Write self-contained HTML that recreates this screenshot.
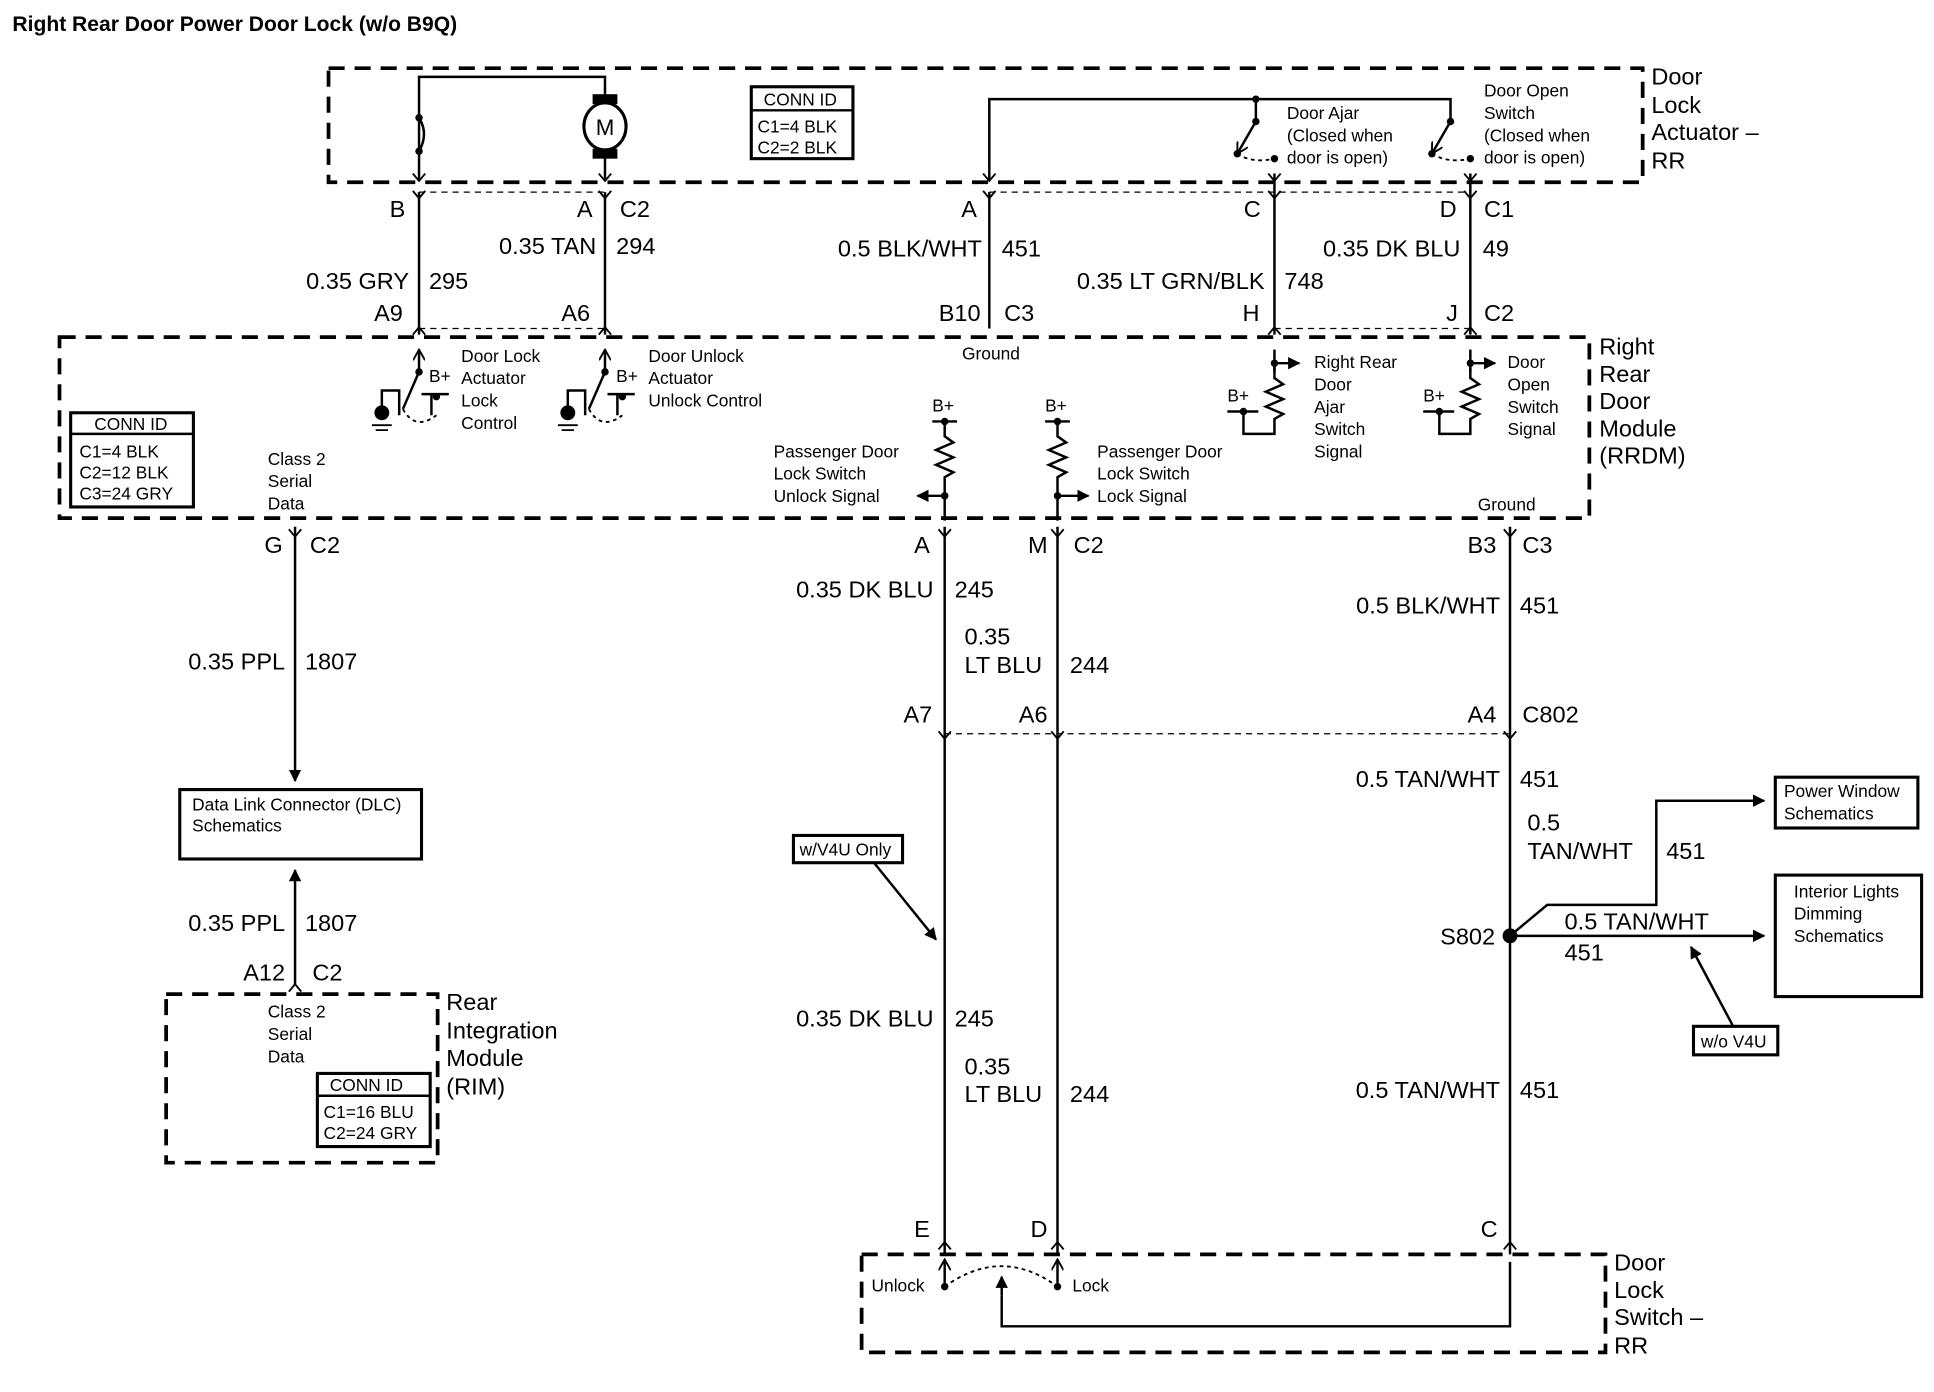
<!DOCTYPE html>
<html><head><meta charset="utf-8"><style>
html,body{margin:0;padding:0;background:#fff;}
svg{display:block;}
text{font-family:"Liberation Sans",Arial,sans-serif;fill:#000;}
.w{font-size:19px;}
.s{font-size:14px;}
.b{font-size:19px;}
</style></head><body>
<svg width="1934" height="1392" viewBox="0 0 1560 1123" preserveAspectRatio="none" xmlns="http://www.w3.org/2000/svg">
<defs>
<marker id="ah" markerWidth="10" markerHeight="10" refX="9" refY="5" orient="auto" markerUnits="userSpaceOnUse"><path d="M0,0 L10,5 L0,10 z" fill="#000"/></marker>
<marker id="av" markerWidth="10" markerHeight="10" refX="9" refY="5" orient="auto" markerUnits="userSpaceOnUse"><path d="M0,0 L9,5 L0,10" fill="none" stroke="#000" stroke-width="1.5"/></marker>
</defs>
<text x="10" y="25" style="font-size:17px;font-weight:bold">Right Rear Door Power Door Lock (w/o B9Q)</text>

<g fill="none" stroke="#000" stroke-width="3" stroke-dasharray="13,8">
<rect x="265" y="55" width="1060" height="92"/>
<rect x="48" y="272" width="1234" height="146"/>
<rect x="134" y="802" width="219" height="136"/>
<rect x="695" y="1012" width="600" height="79"/>
</g>
<g fill="none" stroke="#000" stroke-width="1" stroke-dasharray="5,4">
<line x1="338" y1="155" x2="488" y2="155"/><line x1="798" y1="155" x2="1186" y2="155"/>
<line x1="338" y1="265" x2="488" y2="265"/><line x1="1028" y1="265" x2="1186" y2="265"/>
<line x1="762" y1="592" x2="1218" y2="592"/>
</g>

<g stroke="#000" stroke-width="2" fill="none">
<!-- actuator internals -->
<path d="M338,145 V62 H488 V145"/>
<path d="M798,145 V80 H1170 V98"/>
<path d="M1013,80 V98"/>
<line x1="338" y1="155" x2="338" y2="270"/>
<line x1="488" y1="155" x2="488" y2="270"/>
<line x1="798" y1="155" x2="798" y2="265"/>
<line x1="1028" y1="140" x2="1028" y2="270"/>
<line x1="1186" y1="140" x2="1186" y2="270"/>
<path d="M1013,98 L998,124" marker-end="url(#av)"/>
<path d="M1170,98 L1155,124" marker-end="url(#av)"/>
<path d="M338,95 Q346,108 338,122"/>
<!-- RRDM internals -->
<path d="M338,300 V282" marker-end="url(#av)"/>
<path d="M488,300 V282" marker-end="url(#av)"/>
<path d="M338,300 L325,330" /><path d="M488,300 L475,330"/>
<path d="M308,338 V315 H322 V335"/><path d="M458,338 V315 H472 V335"/>
<path d="M340,318 H362 M348,318 V335"/><path d="M490,318 H512 M498,318 V335"/>
<path d="M1028,300 V282"/><path d="M1186,300 V282"/>
<path d="M1028,293 H1048" marker-end="url(#ah)"/><path d="M1186,293 H1206" marker-end="url(#ah)"/>
<path d="M1028,293 V305 l7,5 -14,6 14,6 -14,6 14,6 -7,4 V350 H1003 V332 M990,332 H1015"/>
<path d="M1186,293 V305 l7,5 -14,6 14,6 -14,6 14,6 -7,4 V350 H1161 V332 M1148,332 H1173"/>
<path d="M752,340 H772 M762,340 V352 l7,5 -14,6 14,6 -14,6 14,6 -7,4 V420"/>
<path d="M843,340 H863 M853,340 V352 l7,5 -14,6 14,6 -14,6 14,6 -7,4 V420"/>
<path d="M762,400 H740" marker-end="url(#ah)"/><path d="M853,400 H878" marker-end="url(#ah)"/>
<!-- lower wires -->
<path d="M238,425 V630" marker-end="url(#ah)"/>
<path d="M238,795 V702" marker-end="url(#ah)"/>
<line x1="762" y1="425" x2="762" y2="1012"/>
<line x1="853" y1="425" x2="853" y2="1012"/>
<line x1="1218" y1="425" x2="1218" y2="1012"/>
<path d="M1218,755 L1248,730 H1336 V646 H1423" marker-end="url(#ah)"/>
<path d="M1218,755 H1423" marker-end="url(#ah)"/>
<path d="M1398,828 L1364,764" marker-end="url(#ah)"/>
<path d="M705,696 L755,758" marker-end="url(#ah)"/>
<path d="M808,1045 V1070 H1218 V1018"/>
<path d="M808,1045 V1030" marker-end="url(#ah)"/>
<path d="M762,1035 V1016" marker-end="url(#av)"/><path d="M853,1035 V1016" marker-end="url(#av)"/>
</g>
<g fill="none" stroke="#000" stroke-width="1.5" stroke-dasharray="3,3">
<path d="M998,124 Q1010,132 1028,128"/><path d="M1155,124 Q1168,132 1186,128"/>
<path d="M325,330 Q335,348 352,335"/><path d="M475,330 Q485,348 502,335"/>
<path d="M762,1038 Q808,1005 853,1038"/>
</g>
<!-- arrows into pins -->
<g stroke="#000" stroke-width="1.5" fill="none">
<path d="M333,140 l5,6 5,-6 M483,140 l5,6 5,-6 M1023,140 l5,6 5,-6 M1181,140 l5,6 5,-6 M793,140 l5,6 5,-6"/>
<path d="M333,154 l5,6 5,-6 M483,154 l5,6 5,-6 M793,154 l5,6 5,-6 M1023,154 l5,6 5,-6 M1181,154 l5,6 5,-6"/>
<path d="M333,270 l5,-6 5,6 M483,270 l5,-6 5,6 M1023,270 l5,-6 5,6 M1181,270 l5,-6 5,6"/>
<path d="M233,427 l5,6 5,-6 M757,427 l5,6 5,-6 M848,427 l5,6 5,-6 M1213,427 l5,6 5,-6"/>
<path d="M757,590 l5,6 5,-6 M848,590 l5,6 5,-6 M1213,590 l5,6 5,-6"/>
<path d="M757,1008 l5,-6 5,6 M848,1008 l5,-6 5,6 M1213,1008 l5,-6 5,6 M233,800 l5,-6 5,6"/>
</g>
<!-- dots -->
<g fill="#000">
<circle cx="1013" cy="80" r="3"/><circle cx="1013" cy="98" r="3"/><circle cx="1170" cy="98" r="3"/>
<circle cx="998" cy="124" r="3"/><circle cx="1155" cy="124" r="3"/><circle cx="1028" cy="128" r="3"/><circle cx="1186" cy="128" r="3"/>
<circle cx="338" cy="95" r="3"/><circle cx="338" cy="122" r="3"/>
<circle cx="338" cy="300" r="3"/><circle cx="488" cy="300" r="3"/><circle cx="352" cy="320" r="3"/><circle cx="502" cy="320" r="3"/>
<circle cx="1028" cy="293" r="3"/><circle cx="1186" cy="293" r="3"/><circle cx="1003" cy="332" r="3"/><circle cx="1161" cy="332" r="3"/>
<circle cx="762" cy="340" r="3"/><circle cx="853" cy="340" r="3"/><circle cx="762" cy="400" r="3"/><circle cx="853" cy="400" r="3"/>
<circle cx="1218" cy="755" r="6"/><circle cx="762" cy="1038" r="3"/><circle cx="853" cy="1038" r="3"/>
<circle cx="308" cy="333" r="6"/><circle cx="458" cy="333" r="6"/>
<rect x="478" y="76" width="20" height="8"/><rect x="478" y="120" width="20" height="8"/>
</g>
<g stroke="#000" stroke-width="1.5"><path d="M300,343 h16 M303,347 h10 M450,343 h16 M453,347 h10"/></g>
<ellipse cx="488" cy="102" rx="17" ry="19" fill="#fff" stroke="#000" stroke-width="2.5"/>
<text x="488" y="109" text-anchor="middle" style="font-size:18px">M</text>

<!-- boxes -->
<g fill="#fff" stroke="#000" stroke-width="2.5">
<rect x="606" y="70" width="82" height="58"/><rect x="57" y="333" width="99" height="76"/><rect x="256" y="866" width="91" height="59"/>
<rect x="145" y="637" width="195" height="56"/><rect x="1432" y="627" width="115" height="41"/><rect x="1432" y="706" width="118" height="98"/>
<rect x="1366" y="828" width="68" height="23"/><rect x="640" y="674" width="88" height="22"/>
</g>
<g stroke="#000" stroke-width="2"><line x1="606" y1="89" x2="688" y2="89"/><line x1="57" y1="350" x2="156" y2="350"/><line x1="256" y1="884" x2="347" y2="884"/></g>
<g class="s">
<text x="616" y="85">CONN ID</text><text x="611" y="107">C1=4 BLK</text><text x="611" y="124">C2=2 BLK</text>
<text x="76" y="347">CONN ID</text><text x="64" y="369">C1=4 BLK</text><text x="64" y="386">C2=12 BLK</text><text x="64" y="403">C3=24 GRY</text>
<text x="266" y="880">CONN ID</text><text x="261" y="902">C1=16 BLU</text><text x="261" y="919">C2=24 GRY</text>
<text x="155" y="654">Data Link Connector (DLC)</text><text x="155" y="671">Schematics</text>
<text x="1439" y="643">Power Window</text><text x="1439" y="661">Schematics</text>
<text x="1447" y="724">Interior Lights</text><text x="1447" y="742">Dimming</text><text x="1447" y="760">Schematics</text>
<text x="1372" y="845">w/o V4U</text><text x="645" y="690">w/V4U Only</text>
<text x="1038" y="96">Door Ajar</text><text x="1038" y="114">(Closed when</text><text x="1038" y="132">door is open)</text>
<text x="1197" y="78">Door Open</text><text x="1197" y="96">Switch</text><text x="1197" y="114">(Closed when</text><text x="1197" y="132">door is open)</text>
<text x="776" y="290">Ground</text><text x="1192" y="412">Ground</text>
<text x="372" y="292">Door Lock</text><text x="372" y="310">Actuator</text><text x="372" y="328">Lock</text><text x="372" y="346">Control</text>
<text x="346" y="308">B+</text><text x="497" y="308">B+</text>
<text x="523" y="292">Door Unlock</text><text x="523" y="310">Actuator</text><text x="523" y="328">Unlock Control</text>
<text x="216" y="375">Class 2</text><text x="216" y="393">Serial</text><text x="216" y="411">Data</text>
<text x="216" y="821">Class 2</text><text x="216" y="839">Serial</text><text x="216" y="857">Data</text>
<text x="624" y="369">Passenger Door</text><text x="624" y="387">Lock Switch</text><text x="624" y="405">Unlock Signal</text>
<text x="885" y="369">Passenger Door</text><text x="885" y="387">Lock Switch</text><text x="885" y="405">Lock Signal</text>
<text x="752" y="332">B+</text><text x="843" y="332">B+</text><text x="990" y="324">B+</text><text x="1148" y="324">B+</text>
<text x="1060" y="297">Right Rear</text><text x="1060" y="315">Door</text><text x="1060" y="333">Ajar</text><text x="1060" y="351">Switch</text><text x="1060" y="369">Signal</text>
<text x="1216" y="297">Door</text><text x="1216" y="315">Open</text><text x="1216" y="333">Switch</text><text x="1216" y="351">Signal</text>
<text x="703" y="1042">Unlock</text><text x="865" y="1042">Lock</text>
</g>
<g class="b">
<text x="1332" y="68">Door</text><text x="1332" y="91">Lock</text><text x="1332" y="113">Actuator –</text><text x="1332" y="136">RR</text>
<text x="1290" y="286">Right</text><text x="1290" y="308">Rear</text><text x="1290" y="330">Door</text><text x="1290" y="352">Module</text><text x="1290" y="374">(RRDM)</text>
<text x="360" y="815">Rear</text><text x="360" y="838">Integration</text><text x="360" y="860">Module</text><text x="360" y="883">(RIM)</text>
<text x="1302" y="1025">Door</text><text x="1302" y="1047">Lock</text><text x="1302" y="1069">Switch –</text><text x="1302" y="1092">RR</text>
</g>
<g class="w" text-anchor="end">
<text x="327" y="175">B</text><text x="478" y="175">A</text><text x="788" y="175">A</text><text x="1017" y="175">C</text><text x="1175" y="175">D</text>
<text x="481" y="205">0.35 TAN</text><text x="330" y="233">0.35 GRY</text><text x="792" y="207">0.5 BLK/WHT</text><text x="1020" y="233">0.35 LT GRN/BLK</text><text x="1178" y="207">0.35 DK BLU</text>
<text x="325" y="259">A9</text><text x="476" y="259">A6</text><text x="791" y="259">B10</text><text x="1016" y="259">H</text><text x="1176" y="259">J</text>
<text x="228" y="446">G</text><text x="750" y="446">A</text><text x="845" y="446">M</text><text x="1207" y="446">B3</text>
<text x="230" y="540">0.35 PPL</text><text x="753" y="482">0.35 DK BLU</text><text x="1210" y="495">0.5 BLK/WHT</text>
<text x="752" y="583">A7</text><text x="845" y="583">A6</text><text x="1207" y="583">A4</text>
<text x="1210" y="635">0.5 TAN/WHT</text><text x="1206" y="762">S802</text>
<text x="230" y="751">0.35 PPL</text><text x="230" y="791">A12</text>
<text x="753" y="828">0.35 DK BLU</text><text x="1210" y="886">0.5 TAN/WHT</text>
<text x="750" y="998">E</text><text x="845" y="998">D</text><text x="1208" y="998">C</text>
</g>
<g class="w">
<text x="500" y="175">C2</text><text x="1197" y="175">C1</text>
<text x="497" y="205">294</text><text x="346" y="233">295</text><text x="808" y="207">451</text><text x="1036" y="233">748</text><text x="1196" y="207">49</text>
<text x="810" y="259">C3</text><text x="1197" y="259">C2</text>
<text x="250" y="446">C2</text><text x="866" y="446">C2</text><text x="1228" y="446">C3</text>
<text x="246" y="540">1807</text><text x="770" y="482">245</text><text x="778" y="520">0.35</text><text x="778" y="543">LT BLU</text><text x="863" y="543">244</text><text x="1226" y="495">451</text>
<text x="1228" y="583">C802</text><text x="1226" y="635">451</text>
<text x="1232" y="670">0.5</text><text x="1232" y="693">TAN/WHT</text><text x="1344" y="693">451</text>
<text x="1262" y="750">0.5 TAN/WHT</text><text x="1262" y="775">451</text>
<text x="246" y="751">1807</text><text x="252" y="791">C2</text>
<text x="770" y="828">245</text><text x="778" y="867">0.35</text><text x="778" y="889">LT BLU</text><text x="863" y="889">244</text><text x="1226" y="886">451</text>
</g>
</svg>
</body></html>
